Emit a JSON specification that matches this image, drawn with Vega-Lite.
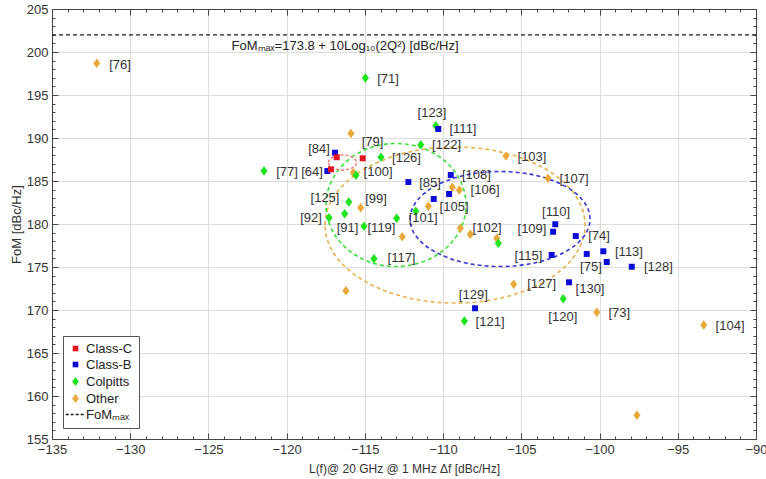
{
  "$schema": "https://vega.github.io/schema/vega-lite/v6.json",
  "width": 704,
  "height": 430,
  "autosize": {"type": "none"},
  "padding": {"left": 52, "top": 9, "right": 10, "bottom": 40},
  "config": {
    "font": "Liberation Sans",
    "view": {"stroke": null}
  },
  "datasets": {
    "points": [
      {"type": "Other", "x": -132.14, "y": 198.69},
      {"type": "Other", "x": -115.89, "y": 190.52},
      {"type": "Other", "x": -115.74, "y": 185.97},
      {"type": "Other", "x": -105.98, "y": 187.91},
      {"type": "Other", "x": -103.29, "y": 185.31},
      {"type": "Other", "x": -109.41, "y": 184.27},
      {"type": "Other", "x": -108.96, "y": 183.95},
      {"type": "Other", "x": -110.95, "y": 182.06},
      {"type": "Other", "x": -115.27, "y": 181.9},
      {"type": "Other", "x": -112.61, "y": 178.52},
      {"type": "Other", "x": -108.9, "y": 179.5},
      {"type": "Other", "x": -108.26, "y": 178.8},
      {"type": "Other", "x": -106.57, "y": 178.34},
      {"type": "Other", "x": -105.49, "y": 173.0},
      {"type": "Other", "x": -100.18, "y": 169.74},
      {"type": "Other", "x": -93.34, "y": 168.26},
      {"type": "Other", "x": -97.61, "y": 157.76},
      {"type": "Other", "x": -116.21, "y": 172.24},
      {"type": "Colpitts", "x": -121.45, "y": 186.16},
      {"type": "Colpitts", "x": -114.97, "y": 196.98},
      {"type": "Colpitts", "x": -110.47, "y": 191.43},
      {"type": "Colpitts", "x": -111.43, "y": 189.22},
      {"type": "Colpitts", "x": -113.97, "y": 187.76},
      {"type": "Colpitts", "x": -115.57, "y": 185.66},
      {"type": "Colpitts", "x": -116.03, "y": 182.56},
      {"type": "Colpitts", "x": -116.29, "y": 181.2},
      {"type": "Colpitts", "x": -117.29, "y": 180.73},
      {"type": "Colpitts", "x": -115.06, "y": 179.73},
      {"type": "Colpitts", "x": -112.97, "y": 180.66},
      {"type": "Colpitts", "x": -111.75, "y": 181.48},
      {"type": "Colpitts", "x": -114.42, "y": 175.97},
      {"type": "Colpitts", "x": -106.47, "y": 177.76},
      {"type": "Colpitts", "x": -102.32, "y": 171.31},
      {"type": "Colpitts", "x": -108.64, "y": 168.72},
      {"type": "Class-B", "x": -116.91, "y": 188.29},
      {"type": "Class-B", "x": -117.4, "y": 186.16},
      {"type": "Class-B", "x": -110.31, "y": 191.05},
      {"type": "Class-B", "x": -112.22, "y": 184.88},
      {"type": "Class-B", "x": -109.51, "y": 185.7},
      {"type": "Class-B", "x": -109.62, "y": 183.49},
      {"type": "Class-B", "x": -110.6, "y": 182.91},
      {"type": "Class-B", "x": -102.83, "y": 179.97},
      {"type": "Class-B", "x": -102.97, "y": 179.1},
      {"type": "Class-B", "x": -101.52, "y": 178.6},
      {"type": "Class-B", "x": -103.06, "y": 176.4},
      {"type": "Class-B", "x": -100.82, "y": 176.51},
      {"type": "Class-B", "x": -99.76, "y": 176.83},
      {"type": "Class-B", "x": -99.54, "y": 175.58},
      {"type": "Class-B", "x": -97.94, "y": 175.03},
      {"type": "Class-B", "x": -101.95, "y": 173.22},
      {"type": "Class-B", "x": -107.96, "y": 170.2},
      {"type": "Class-C", "x": -116.8, "y": 187.76},
      {"type": "Class-C", "x": -117.17, "y": 186.36},
      {"type": "Class-C", "x": -115.14, "y": 187.64}
    ],
    "labels": [
      {"ref": "[76]", "x": -130.65, "y": 198.49},
      {"ref": "[71]", "x": -113.52, "y": 196.86},
      {"ref": "[123]", "x": -110.71, "y": 192.91},
      {"ref": "[111]", "x": -108.73, "y": 191.05},
      {"ref": "[84]", "x": -117.93, "y": 188.72},
      {"ref": "[79]", "x": -114.51, "y": 189.48},
      {"ref": "[122]", "x": -109.78, "y": 189.13},
      {"ref": "[126]", "x": -112.34, "y": 187.73},
      {"ref": "[103]", "x": -104.32, "y": 187.79},
      {"ref": "[77]", "x": -119.98, "y": 186.1},
      {"ref": "[64]", "x": -118.38, "y": 186.1},
      {"ref": "[100]", "x": -114.16, "y": 185.99},
      {"ref": "[108]", "x": -107.87, "y": 185.7},
      {"ref": "[107]", "x": -101.63, "y": 185.23},
      {"ref": "[85]", "x": -110.84, "y": 184.77},
      {"ref": "[106]", "x": -107.32, "y": 183.95},
      {"ref": "[125]", "x": -117.55, "y": 182.97},
      {"ref": "[99]", "x": -114.29, "y": 182.91},
      {"ref": "[105]", "x": -109.3, "y": 182.01},
      {"ref": "[110]", "x": -102.78, "y": 181.34},
      {"ref": "[92]", "x": -118.44, "y": 180.7},
      {"ref": "[101]", "x": -111.28, "y": 180.66},
      {"ref": "[91]", "x": -116.11, "y": 179.5},
      {"ref": "[119]", "x": -113.94, "y": 179.5},
      {"ref": "[102]", "x": -107.19, "y": 179.5},
      {"ref": "[109]", "x": -104.32, "y": 179.42},
      {"ref": "[74]", "x": -100.03, "y": 178.55},
      {"ref": "[113]", "x": -98.12, "y": 176.71},
      {"ref": "[115]", "x": -104.55, "y": 176.31},
      {"ref": "[117]", "x": -112.66, "y": 176.05},
      {"ref": "[75]", "x": -100.55, "y": 175.03},
      {"ref": "[128]", "x": -96.24, "y": 174.97},
      {"ref": "[127]", "x": -103.7, "y": 173.02},
      {"ref": "[130]", "x": -100.61, "y": 172.41},
      {"ref": "[129]", "x": -108.07, "y": 171.74},
      {"ref": "[120]", "x": -102.35, "y": 169.22},
      {"ref": "[73]", "x": -98.74, "y": 169.69},
      {"ref": "[121]", "x": -107.0, "y": 168.64},
      {"ref": "[104]", "x": -91.66, "y": 168.17}
    ],
    "ellipses": [
      {"grp": "Class-C", "x": -116.43, "y": 187.15},
      {"grp": "Colpitts", "x": -113.01, "y": 182.21},
      {"grp": "Class-B", "x": -106.36, "y": 180.58},
      {"grp": "Other", "x": -109.24, "y": 179.88}
    ],
    "fom": [{"name": "FoM_MAX", "y": 202}]
  },
  "resolve": {"axis": {"x": "independent", "y": "independent"}},
  "layer": [
    {
      "data": {"name": "ellipses"},
      "transform": [{"filter": "datum.grp === 'Other'"}],
      "mark": {"type": "point", "filled": false, "opacity": 1, "shape": "M-1,0A1,0.6,0,1,1,1,0A1,0.6,0,1,1,-1,0Z", "size": 67600, "stroke": "#eab24e", "strokeWidth": 1.6, "strokeDash": [4, 3]},
      "encoding": {
        "x": {"field": "x", "type": "quantitative", "scale": {"domain": [-135, -90], "nice": false, "zero": false}, "axis": null},
        "y": {"field": "y", "type": "quantitative", "scale": {"domain": [155, 205], "nice": false, "zero": false}, "axis": null}
      }
    },
    {
      "data": {"name": "ellipses"},
      "transform": [{"filter": "datum.grp === 'Colpitts'"}],
      "mark": {"type": "point", "filled": false, "opacity": 1, "shape": "M-1,0A1,0.879,0,1,1,1,0A1,0.879,0,1,1,-1,0Z", "size": 19600, "stroke": "#3ddf3d", "strokeWidth": 1.6, "strokeDash": [4, 3]},
      "encoding": {
        "x": {"field": "x", "type": "quantitative", "scale": {"domain": [-135, -90], "nice": false, "zero": false}, "axis": null},
        "y": {"field": "y", "type": "quantitative", "scale": {"domain": [155, 205], "nice": false, "zero": false}, "axis": null}
      }
    },
    {
      "data": {"name": "ellipses"},
      "transform": [{"filter": "datum.grp === 'Class-B'"}],
      "mark": {"type": "point", "filled": false, "opacity": 1, "shape": "M-1,0A1,0.528,0,1,1,1,0A1,0.528,0,1,1,-1,0Z", "size": 32400, "stroke": "#3636d2", "strokeWidth": 1.6, "strokeDash": [4, 3]},
      "encoding": {
        "x": {"field": "x", "type": "quantitative", "scale": {"domain": [-135, -90], "nice": false, "zero": false}, "axis": null},
        "y": {"field": "y", "type": "quantitative", "scale": {"domain": [155, 205], "nice": false, "zero": false}, "axis": null}
      }
    },
    {
      "data": {"name": "ellipses"},
      "transform": [{"filter": "datum.grp === 'Class-C'"}],
      "mark": {"type": "point", "filled": false, "opacity": 1, "shape": "M-1,0A1,0.536,0,1,1,1,0A1,0.536,0,1,1,-1,0Z", "size": 784, "stroke": "#f07878", "strokeWidth": 1.4, "strokeDash": [3, 2]},
      "encoding": {
        "x": {"field": "x", "type": "quantitative", "scale": {"domain": [-135, -90], "nice": false, "zero": false}, "axis": null},
        "y": {"field": "y", "type": "quantitative", "scale": {"domain": [155, 205], "nice": false, "zero": false}, "axis": null}
      }
    },
    {
      "data": {"name": "fom"},
      "mark": {"type": "rule", "color": "#1a1a1a", "strokeWidth": 1.2, "strokeDash": [4, 3]},
      "encoding": {
        "y": {"field": "y", "type": "quantitative", "scale": {"domain": [155, 205], "nice": false, "zero": false}, "axis": null}
      }
    },
    {
      "data": {"name": "points"},
      "mark": {"type": "point", "filled": true, "opacity": 1, "size": 90, "strokeWidth": 0},
      "encoding": {
        "x": {
          "field": "x", "type": "quantitative",
          "scale": {"domain": [-135, -90], "nice": false, "zero": false},
          "axis": {
            "orient": "bottom",
            "values": [-135,-134,-133,-132,-131,-130,-129,-128,-127,-126,-125,-124,-123,-122,-121,-120,-119,-118,-117,-116,-115,-114,-113,-112,-111,-110,-109,-108,-107,-106,-105,-104,-103,-102,-101,-100,-99,-98,-97,-96,-95,-94,-93,-92,-91,-90],
            "labelExpr": "datum.value % 5 === 0 ? datum.label : ''",
            "labelOverlap": false, "labelFlush": false,
            "labelFontSize": 13, "labelColor": "#333", "labelPadding": 10,
            "grid": true, "gridColor": "#dddddd",
            "gridOpacity": {"condition": {"test": "datum.value % 5 === 0", "value": 1}, "value": 0},
            "tickColor": "#444",
            "tickSize": {"condition": {"test": "datum.value % 5 === 0", "value": -6}, "value": -3},
            "domainColor": "#444",
            "title": "L(f)@ 20 GHz @ 1 MHz Δf [dBc/Hz]",
            "titleFontSize": 12, "titleFontWeight": "normal", "titleColor": "#333", "titlePadding": 4
          }
        },
        "y": {
          "field": "y", "type": "quantitative",
          "scale": {"domain": [155, 205], "nice": false, "zero": false},
          "axis": {
            "orient": "left",
            "values": [155,156,157,158,159,160,161,162,163,164,165,166,167,168,169,170,171,172,173,174,175,176,177,178,179,180,181,182,183,184,185,186,187,188,189,190,191,192,193,194,195,196,197,198,199,200,201,202,203,204,205],
            "labelExpr": "datum.value % 5 === 0 ? datum.label : ''",
            "labelOverlap": false, "labelFlush": false,
            "labelFontSize": 13, "labelColor": "#333", "labelPadding": 10,
            "grid": true, "gridColor": "#dddddd",
            "gridOpacity": {"condition": {"test": "datum.value % 5 === 0", "value": 1}, "value": 0},
            "tickColor": "#444",
            "tickSize": {"condition": {"test": "datum.value % 5 === 0", "value": -6}, "value": -3},
            "domainColor": "#444",
            "title": "FoM [dBc/Hz]",
            "titleFontSize": 13, "titleFontWeight": "normal", "titleColor": "#333", "titlePadding": 3
          }
        },
        "color": {
          "field": "type", "type": "nominal",
          "scale": {"domain": ["Class-C", "Class-B", "Colpitts", "Other", "FoM_MAX"], "range": ["#e3141e", "#0c0cd6", "#1ee41e", "#e8a93a", "#1a1a1a"]},
          "legend": {
            "title": null, "orient": "bottom-left", "offset": 11, "padding": 6,
            "strokeColor": "#555", "fillColor": "#ffffff",
            "labelFontSize": 13, "labelColor": "#222", "labelOffset": 4,
            "symbolSize": 80, "symbolOpacity": 1, "rowPadding": 2,
            "labelExpr": "datum.label === 'FoM_MAX' ? 'FoMₘₐₓ' : datum.label",
            "encode": {
              "symbols": {
                "update": {
                  "stroke": {"signal": "datum.value === 'FoM_MAX' ? '#1a1a1a' : 'transparent'"},
                  "strokeDash": {"signal": "datum.value === 'FoM_MAX' ? [3, 2] : [1, 0]"},
                  "strokeWidth": {"value": 1.3}
                }
              }
            }
          }
        },
        "shape": {
          "field": "type", "type": "nominal",
          "scale": {"domain": ["Class-C", "Class-B", "Colpitts", "Other", "FoM_MAX"], "range": ["M-0.63,-0.63H0.63V0.63H-0.63Z", "M-0.63,-0.63H0.63V0.63H-0.63Z", "M0,-1L0.75,0L0,1L-0.75,0Z", "M0,-1L0.75,0L0,1L-0.75,0Z", "M-2.2,0H2.2"]}
        }
      }
    },
    {
      "data": {"name": "labels"},
      "mark": {"type": "text", "fontSize": 13, "color": "#333", "align": "center", "baseline": "middle"},
      "encoding": {
        "text": {"field": "ref"},
        "x": {
          "field": "x", "type": "quantitative",
          "scale": {"domain": [-135, -90], "nice": false, "zero": false},
          "axis": {
            "orient": "top", "title": null, "labels": false, "grid": false,
            "values": [-135,-134,-133,-132,-131,-130,-129,-128,-127,-126,-125,-124,-123,-122,-121,-120,-119,-118,-117,-116,-115,-114,-113,-112,-111,-110,-109,-108,-107,-106,-105,-104,-103,-102,-101,-100,-99,-98,-97,-96,-95,-94,-93,-92,-91,-90],
            "tickColor": "#444",
            "tickSize": {"condition": {"test": "datum.value % 5 === 0", "value": -6}, "value": -3},
            "domainColor": "#444"
          }
        },
        "y": {
          "field": "y", "type": "quantitative",
          "scale": {"domain": [155, 205], "nice": false, "zero": false},
          "axis": {
            "orient": "right", "title": null, "labels": false, "grid": false,
            "values": [155,156,157,158,159,160,161,162,163,164,165,166,167,168,169,170,171,172,173,174,175,176,177,178,179,180,181,182,183,184,185,186,187,188,189,190,191,192,193,194,195,196,197,198,199,200,201,202,203,204,205],
            "tickColor": "#444",
            "tickSize": {"condition": {"test": "datum.value % 5 === 0", "value": -6}, "value": -3},
            "domainColor": "#444"
          }
        }
      }
    },
    {
      "data": {"values": [{"note": "FoMₘₐₓ=173.8 + 10Log₁₀(2Q²) [dBc/Hz]"}]},
      "mark": {"type": "text", "fontSize": 13, "color": "#222", "align": "center", "baseline": "middle"},
      "encoding": {
        "text": {"field": "note"},
        "x": {"datum": -116.27, "type": "quantitative", "scale": {"domain": [-135, -90], "nice": false, "zero": false}, "axis": null},
        "y": {"datum": 200.7, "type": "quantitative", "scale": {"domain": [155, 205], "nice": false, "zero": false}, "axis": null}
      }
    }
  ]
}
